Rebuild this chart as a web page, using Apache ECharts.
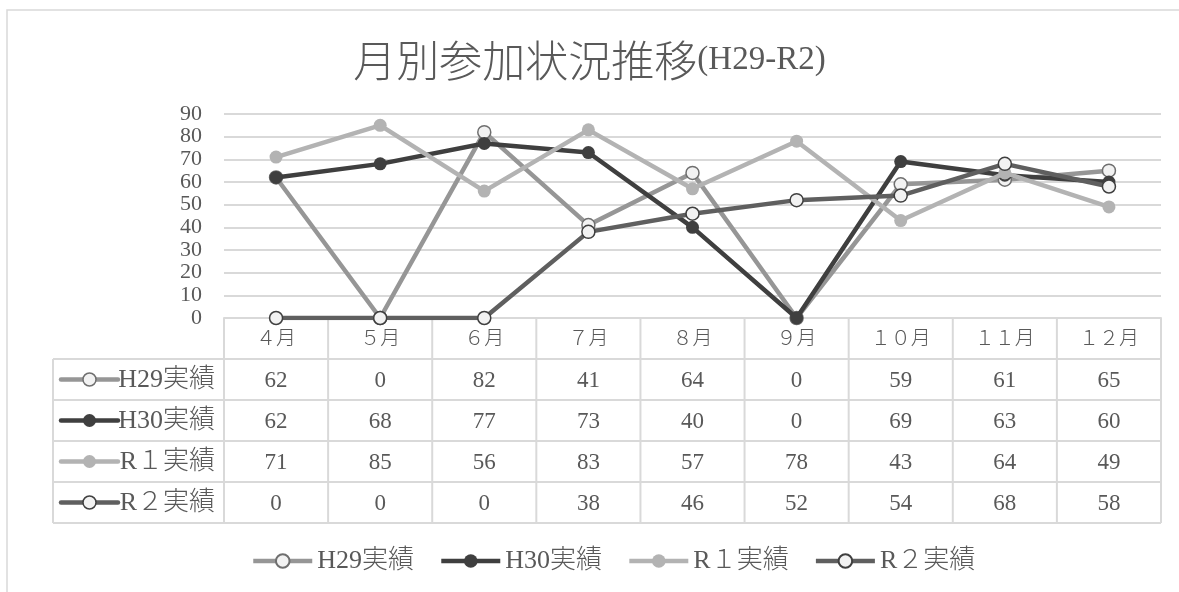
<!DOCTYPE html>
<html>
<head>
<meta charset="utf-8">
<script src="https://cdn.jsdelivr.net/npm/echarts@6/dist/echarts.min.js"></script>
<style>
html,body{margin:0;padding:0;background:#fff;}
#c{width:1179px;height:592px;}
</style>
</head>
<body>
<div id="c"></div>
<script>
// ---- data ----
const months = ['４月','５月','６月','７月','８月','９月','１０月','１１月','１２月'];
const seriesNames = ['H29実績','H30実績','R１実績','R２実績'];
const h29 = [62, 0, 82, 41, 64, 0, 59, 61, 65];
const h30 = [62, 68, 77, 73, 40, 0, 69, 63, 60];
const r1  = [71, 85, 56, 83, 57, 78, 43, 64, 49];
const r2  = [0, 0, 0, 38, 46, 52, 54, 68, 58];
const titleMain = '月別参加状況推移';
const titleSub = '(H29-R2)';

// ---- styles ----
const TXT = '#595959';
const GRID = '#d9d9d9';
const SERIF = "'Liberation Serif','Noto Sans CJK JP'";
const styles = [
  {line:'#969696', fill:'#f2f2f2', border:'#6f6f6f', bw:1.5},
  {line:'#3f3f3f', fill:'#3f3f3f', border:'#3f3f3f', bw:0},
  {line:'#b3b3b3', fill:'#b3b3b3', border:'#b3b3b3', bw:0},
  {line:'#5f5f5f', fill:'#f2f2f2', border:'#3f3f3f', bw:1.5}
];
const allData = [h29, h30, r1, r2];

const chart = echarts.init(document.getElementById('c'));

const series = allData.map((d, i) => ({
  name: seriesNames[i],
  type: 'line',
  data: d,
  symbol: 'circle',
  symbolSize: 13,
  lineStyle: {color: styles[i].line, width: 4.5},
  itemStyle: {color: styles[i].fill, borderColor: styles[i].border, borderWidth: styles[i].bw},
  emphasis: {disabled: true},
  z: 2 + i
}));

chart.setOption({
  animation: false,
  backgroundColor: '#fff',
  title: {
    text: '{a|' + titleMain + '}{b|' + titleSub + '}',
    left: 'center',
    top: 34,
    textStyle: {
      fontWeight: 'normal',
      rich: {
        a: {fontSize: 43, fontFamily: "'Noto Sans CJK JP'", fontWeight: 300, color: TXT},
        b: {fontSize: 33, fontFamily: "'Liberation Serif'", fontWeight: 'normal', color: TXT}
      }
    }
  },
  grid: {left: 224, right: 18, top: 114, bottom: 274},
  xAxis: {
    type: 'category',
    data: months,
    boundaryGap: true,
    axisLine: {show: true, lineStyle: {color: GRID, width: 2}},
    axisTick: {show: false},
    axisLabel: {show: false},
    splitLine: {show: false}
  },
  yAxis: {
    type: 'value',
    min: 0, max: 90, interval: 10,
    axisLine: {show: false},
    axisTick: {show: false},
    axisLabel: {color: TXT, fontSize: 22, fontFamily: SERIF, margin: 22,
      showMinLabel: true, showMaxLabel: true},
    splitLine: {lineStyle: {color: GRID, width: 2}}
  },
  legend: {
    data: seriesNames,
    left: 246,
    top: 543,
    itemWidth: 59,
    itemHeight: 17,
    itemGap: 25,
    lineStyle: {width: 4.5},
    textStyle: {color: TXT, fontSize: 26, fontFamily: SERIF, fontWeight: 300},
    selectedMode: false
  },
  series: series
});

// ---- data table below the plot, positioned from the axis scales ----
const c0 = chart.convertToPixel({xAxisIndex: 0}, 0);
const c1 = chart.convertToPixel({xAxisIndex: 0}, 1);
const step = c1 - c0;
const tableLeftPlot = c0 - step / 2;
const tableRight = c0 + step * (months.length - 0.5);
const yTop = chart.convertToPixel({yAxisIndex: 0}, 0);
const rowH = 41;
const labelLeft = 53;
const g = [];

// outer chart border
g.push({type: 'rect', shape: {x: 7, y: 10, width: 1200, height: 700},
  style: {fill: 'none', stroke: GRID, lineWidth: 1.5}, z: 0, silent: true});

// horizontal lines
for (let r = 1; r <= seriesNames.length + 1; r++) {
  const y = yTop + rowH * r;
  g.push({type: 'line', shape: {x1: labelLeft, y1: y, x2: tableRight, y2: y},
    style: {stroke: GRID, lineWidth: 2}, z: 1, silent: true});
}
// vertical lines
for (let k = 0; k <= months.length; k++) {
  const x = tableLeftPlot + step * k;
  g.push({type: 'line', shape: {x1: x, y1: yTop, x2: x, y2: yTop + rowH * (seriesNames.length + 1)},
    style: {stroke: GRID, lineWidth: 2}, z: 1, silent: true});
}
g.push({type: 'line', shape: {x1: labelLeft, y1: yTop + rowH, x2: labelLeft, y2: yTop + rowH * (seriesNames.length + 1)},
  style: {stroke: GRID, lineWidth: 2}, z: 1, silent: true});

// header labels
months.forEach((m, k) => {
  g.push({type: 'text', x: c0 + step * k, y: yTop + rowH / 2 + 1,
    style: {text: m, fill: TXT, font: '300 20px ' + SERIF, align: 'center', verticalAlign: 'middle'}, z: 1, silent: true});
});

// rows
allData.forEach((d, i) => {
  const cy = yTop + rowH * (i + 1) + rowH / 2;
  // legend key
  g.push({type: 'line', shape: {x1: 61, y1: cy, x2: 118, y2: cy},
    style: {stroke: styles[i].line, lineWidth: 4.5, lineCap: 'round'}, z: 3, silent: true});
  g.push({type: 'circle', shape: {cx: 89.5, cy: cy, r: 6.5},
    style: {fill: styles[i].fill, stroke: styles[i].bw ? styles[i].border : null, lineWidth: styles[i].bw}, z: 4, silent: true});
  g.push({type: 'text', x: 215, y: cy + 1,
    style: {text: seriesNames[i], fill: TXT, font: '300 26px ' + SERIF, align: 'right', verticalAlign: 'middle'}, z: 3, silent: true});
  d.forEach((v, k) => {
    g.push({type: 'text', x: c0 + step * k, y: cy + 1,
      style: {text: String(v), fill: TXT, font: '23px ' + SERIF, align: 'center', verticalAlign: 'middle'}, z: 3, silent: true});
  });
});

chart.setOption({graphic: {elements: g}});
</script>
</body>
</html>
